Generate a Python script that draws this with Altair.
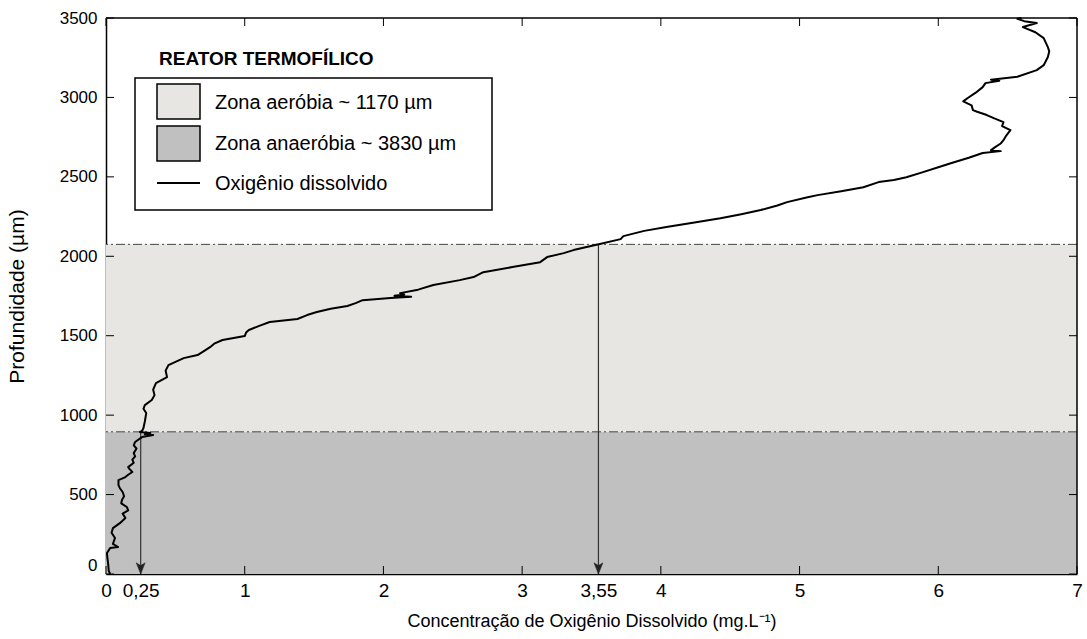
import altair as alt
import pandas as pd

# ---------------- data ----------------
depth = [0, 20, 69, 100, 132, 150, 164, 170, 190, 227, 260, 289, 320, 352, 380, 400, 422, 445,
         466, 490, 516, 540, 560, 591, 610, 625, 642, 660, 673, 700, 720, 740, 761, 790, 810,
         831, 850, 862, 875, 880, 888, 894, 900, 919, 960, 1013, 1040, 1063, 1095, 1126, 1160,
         1202, 1240, 1280, 1315, 1359, 1378, 1400, 1428, 1450, 1473, 1498, 1520, 1536, 1560,
         1586, 1605, 1630, 1649, 1670, 1687, 1705, 1724, 1737, 1745, 1752, 1760, 1768, 1790,
         1819, 1850, 1869, 1900, 1932, 1963, 1995, 2020, 2039, 2077, 2108, 2127, 2160, 2184,
         2210, 2240, 2265, 2291, 2320, 2341, 2370, 2385, 2410, 2435, 2467, 2480, 2498, 2530,
         2560, 2586, 2620, 2650, 2662, 2668, 2687, 2710, 2731, 2760, 2794, 2820, 2845, 2870,
         2889, 2910, 2920, 2950, 2975, 2995, 3030, 3065, 3090, 3105, 3112, 3130, 3172, 3203,
         3254, 3290, 3317, 3373, 3410, 3443, 3468, 3480, 3495, 3500]
conc = [0.03, 0.02, 0.015, 0.01, 0.007, 0.02, 0.03, 0.087, 0.05, 0.065, 0.04, 0.05, 0.10, 0.14,
        0.12, 0.16, 0.15, 0.11, 0.115, 0.13, 0.12, 0.10, 0.09, 0.09, 0.14, 0.16, 0.19, 0.17,
        0.16, 0.20, 0.19, 0.21, 0.20, 0.22, 0.20, 0.21, 0.24, 0.26, 0.34, 0.28, 0.32, 0.245,
        0.26, 0.27, 0.28, 0.29, 0.27, 0.28, 0.33, 0.35, 0.34, 0.36, 0.44, 0.43, 0.45, 0.56,
        0.66, 0.70, 0.75, 0.78, 0.84, 1.00, 1.01, 1.03, 1.10, 1.18, 1.38, 1.45, 1.52, 1.62,
        1.74, 1.80, 1.85, 2.05, 2.20, 2.08, 2.15, 2.12, 2.25, 2.36, 2.55, 2.65, 2.72, 2.93,
        3.13, 3.18, 3.30, 3.37, 3.56, 3.71, 3.73, 3.88, 4.04, 4.22, 4.43, 4.58, 4.72, 4.84,
        4.91, 5.05, 5.13, 5.30, 5.46, 5.57, 5.68, 5.77, 5.89, 6.00, 6.09, 6.22, 6.32, 6.45,
        6.38, 6.41, 6.45, 6.47, 6.49, 6.52, 6.46, 6.47, 6.40, 6.35, 6.28, 6.25, 6.24, 6.18,
        6.21, 6.27, 6.32, 6.34, 6.44, 6.38, 6.57, 6.71, 6.76, 6.79, 6.80, 6.79, 6.76, 6.70,
        6.61, 6.71, 6.62, 6.57, 6.60]

zone_names = ["anaerobia", "aerobia"]
zone_bottom = [0, 895]
zone_top = [895, 2075]
zone_colors = ["#c0c0c0", "#e7e6e3"]

arrow_x = [0.25, 3.55]
arrow_top = [895, 2075]

x_tick_values = [0, 1, 2, 3, 4, 5, 6, 7]
x_label_values = [0, 0.25, 1, 2, 3, 3.55, 4, 5, 6, 7]
y_tick_values = [0, 500, 1000, 1500, 2000, 2500, 3000, 3500]

legend_title = "REATOR TERMOFÍLICO"
legend_labels = ["Zona aeróbia ~ 1170 µm", "Zona anaeróbia ~ 3830 µm", "Oxigênio dissolvido"]

x_title = "Concentração de Oxigênio Dissolvido (mg.L⁻¹)"
y_title = "Profundidade (µm)"

# ---------------- chart ----------------
W, H = 971, 556
FONT = "Liberation Sans, Arial, sans-serif"

XS = alt.Scale(domain=[0, 7], nice=False, zero=False)
YS = alt.Scale(domain=[0, 3500], nice=False, zero=False)

X_AX = alt.Axis(
    values=x_label_values, ticks=False, grid=False, domain=True, domainColor="black",
    domainWidth=1.5, labelFlush=False, labelFontSize=19, labelFont=FONT, labelColor="black",
    labelPadding=7, labelExpr="replace(toString(datum.value), '.', ',')",
    title=x_title, titleFont=FONT, titleFontSize=18, titleFontWeight="normal",
    titleColor="black", titleX=W / 2, titleY=52, titleBaseline="alphabetic",
    titleAlign="center")
Y_AX = alt.Axis(
    values=y_tick_values, ticks=False, grid=False, domain=True, domainColor="black",
    domainWidth=1.5, labelFontSize=17, labelFont=FONT, labelColor="black", format="d",
    labelBaseline={"condition": {"test": "datum.value == 0", "value": "bottom"},
                   "value": "middle"},
    labelPadding=9, title=y_title, titleFont=FONT, titleFontSize=21,
    titleFontWeight="normal", titleColor="black", titleX=-89, titleY=H / 2,
    titleBaseline="middle", titleAlign="center")


def xq(field):
    return alt.X(field, type="quantitative", scale=XS, axis=X_AX)


def yq(field):
    return alt.Y(field, type="quantitative", scale=YS, axis=Y_AX)


curve_df = pd.DataFrame({"depth": depth, "conc": conc, "i": range(len(depth))})
zones_df = pd.DataFrame({"zone": zone_names, "y0": zone_bottom, "y1": zone_top,
                         "x0": [0] * len(zone_names), "x1": [7] * len(zone_names)})
lines_df = pd.DataFrame({"d": zone_top})
arrows_df = pd.DataFrame({"x": arrow_x, "top": arrow_top, "bottom": [0] * len(arrow_x)})
xt_df = pd.DataFrame({"v": x_tick_values})
yt_df = pd.DataFrame({"v": y_tick_values})

zones = alt.Chart(zones_df).mark_rect(strokeWidth=0).encode(
    x=xq("x0"), x2="x1:Q", y=yq("y0"), y2="y1:Q",
    color=alt.Color("zone:N", scale=alt.Scale(domain=zone_names, range=zone_colors), legend=None),
)

dash_lines = alt.Chart(lines_df).mark_rule(color="#444444", strokeWidth=1,
                                           strokeDash=[9, 3, 2, 3]).encode(y=yq("d"))

arrow_lines = alt.Chart(arrows_df).mark_rule(color="#333333", strokeWidth=1.2).encode(
    x=xq("x"), y=yq("top"), y2="bottom:Q")

arrow_heads = alt.Chart(arrows_df).mark_point(
    shape="M-0.4,-1L0,0L0.4,-1L0,-0.75Z", filled=True, fill="#222222", stroke="#222222",
    strokeWidth=0.5, size=500, opacity=1
).encode(x=xq("x"), y=yq("bottom"))

curve = alt.Chart(curve_df).mark_line(color="black", strokeWidth=2, strokeJoin="round").encode(
    x=xq("conc"), y=yq("depth"), order="i:Q")

TL = 8
tick_style = dict(color="black", strokeWidth=1)
bottom_ticks = alt.Chart(xt_df).mark_rule(**tick_style).encode(
    x=xq("v"), y=alt.value(H), y2=alt.value(H - TL))
top_ticks = alt.Chart(xt_df).mark_rule(**tick_style).encode(
    x=xq("v"), y=alt.value(0), y2=alt.value(TL))
left_ticks = alt.Chart(yt_df).mark_rule(**tick_style).encode(
    y=yq("v"), x=alt.value(0), x2=alt.value(TL))
right_ticks = alt.Chart(yt_df).mark_rule(**tick_style).encode(
    y=yq("v"), x=alt.value(W), x2=alt.value(W - TL))

one = pd.DataFrame({"k": [0]})
frame_top = alt.Chart(one).mark_rule(color="black", strokeWidth=1.5).encode(
    x=alt.value(0), x2=alt.value(W), y=alt.value(0))
frame_right = alt.Chart(one).mark_rule(color="black", strokeWidth=1.5).encode(
    x=alt.value(W), y=alt.value(0), y2=alt.value(H))

# ---------------- legend (drawn) ----------------
leg_box = alt.Chart(one).mark_rect(fill="white", stroke="black", strokeWidth=1.5).encode(
    x=alt.value(29), x2=alt.value(386), y=alt.value(60), y2=alt.value(192))
leg_title = alt.Chart(pd.DataFrame({"t": [legend_title]})).mark_text(
    font=FONT, fontSize=19, fontWeight="bold", align="left", baseline="alphabetic",
    color="black").encode(text="t:N", x=alt.value(53), y=alt.value(47))
sw1 = alt.Chart(one).mark_rect(fill=zone_colors[1], stroke="black", strokeWidth=1.5).encode(
    x=alt.value(51), x2=alt.value(94), y=alt.value(66), y2=alt.value(101))
sw2 = alt.Chart(one).mark_rect(fill=zone_colors[0], stroke="black", strokeWidth=1.5).encode(
    x=alt.value(51), x2=alt.value(94), y=alt.value(108), y2=alt.value(143))
sw3 = alt.Chart(one).mark_rule(color="black", strokeWidth=2).encode(
    x=alt.value(51), x2=alt.value(94), y=alt.value(165))
leg_texts = []
for lab, yy in zip(legend_labels, [85, 126, 166]):
    leg_texts.append(alt.Chart(pd.DataFrame({"t": [lab]})).mark_text(
        font=FONT, fontSize=20, align="left", baseline="middle", color="black").encode(
        text="t:N", x=alt.value(109), y=alt.value(yy)))

chart = alt.layer(
    zones, dash_lines, arrow_lines, arrow_heads, curve,
    bottom_ticks, top_ticks, left_ticks, right_ticks, frame_top, frame_right,
    leg_box, leg_title, sw1, sw2, sw3, *leg_texts
).properties(
    width=W, height=H,
    autosize=alt.AutoSizeParams(type="none"),
    padding={"left": 106, "top": 18, "right": 10, "bottom": 65},
    background="white",
).configure_view(stroke=None)

chart.save("out.html", embed_options={"renderer": "svg", "actions": False})
